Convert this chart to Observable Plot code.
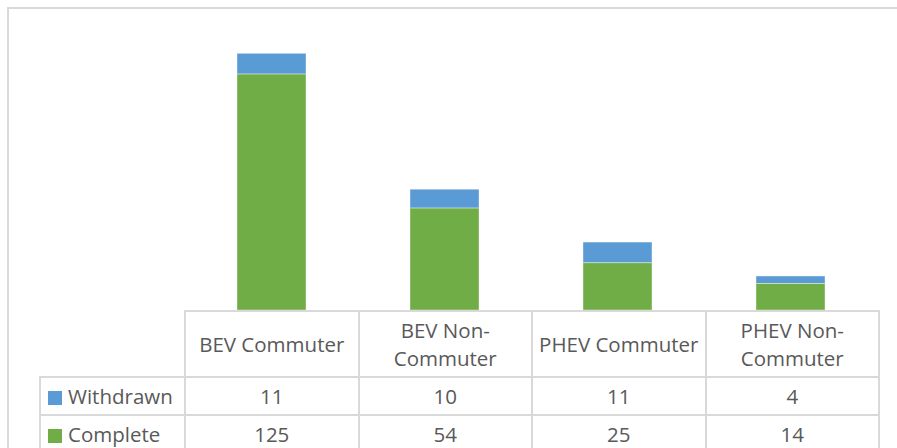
<!DOCTYPE html>
<html>
<head>
<meta charset="utf-8">
<script src="https://cdn.jsdelivr.net/npm/d3@7"></script>
<script src="https://cdn.jsdelivr.net/npm/@observablehq/plot@0.6"></script>
<style>
  html, body { margin: 0; padding: 0; background: #fff; }
  #wrap { position: relative; width: 897px; height: 448px; overflow: hidden; background: #fff; font-family: "Open Sans", sans-serif; }
  #frame { position: absolute; left: 7px; top: 7px; width: 1000px; height: 1000px; border: 2px solid #D9D9D9; box-sizing: border-box; }
  #chart { position: absolute; left: 0; top: 0; }
  #tbl { position: absolute; left: 39px; top: 310px; border-collapse: collapse; table-layout: fixed; color: #595959; font-size: 20.5px; }
  #tbl td { border: 2px solid #D9D9D9; text-align: center; padding: 0; line-height: 28px; white-space: nowrap; }
  #tbl td.corner { border-top: none; border-left: none; }
  #tbl td.lab { text-align: left; padding-left: 7px; }
  .sw { display: inline-block; width: 14px; height: 14px; margin-right: 6px; vertical-align: -1px; }
</style>
</head>
<body>
<div id="wrap">
  <div id="frame"></div>
  <div id="chart"></div>
  <table id="tbl"></table>
</div>
<script>
const categories = ["BEV Commuter", "BEV Non-Commuter", "PHEV Commuter", "PHEV Non-Commuter"];
const seriesNames = ["Withdrawn", "Complete"];
const withdrawn = [11, 10, 11, 4];
const complete = [125, 54, 25, 14];

const colors = {Withdrawn: "#5B9BD5", Complete: "#70AD47"};
const seriesValues = {Withdrawn: withdrawn, Complete: complete};

const data = [];
for (const s of seriesNames) {
  categories.forEach((c, i) => data.push({category: c, series: s, value: seriesValues[s][i]}));
}

const chart = Plot.plot({
  width: 897,
  height: 311,
  marginTop: 8,
  marginBottom: 1,
  marginLeft: 184,
  marginRight: 19,
  x: {domain: categories, paddingInner: 0.6, paddingOuter: 0.3, axis: null},
  y: {domain: [0, 160], axis: null},
  color: {domain: seriesNames, range: seriesNames.map(s => colors[s])},
  marks: [
    Plot.barY(data, Plot.stackY({
      x: "category",
      y: "value",
      fill: "series",
      order: ["Complete", "Withdrawn"],
      stroke: "#ffffff",
      strokeOpacity: 0.5,
      strokeWidth: 0.75,
      inset: 0
    }))
  ]
});
document.getElementById("chart").appendChild(chart);

// data table
const tbl = document.getElementById("tbl");
const colgroup = document.createElement("colgroup");
const widths = [145, 173.5, 173.5, 173.5, 173.5];
widths.forEach(w => { const c = document.createElement("col"); c.style.width = w + "px"; colgroup.appendChild(c); });
tbl.appendChild(colgroup);

const head = document.createElement("tr");
head.style.height = "66px";
const corner = document.createElement("td");
corner.className = "corner";
head.appendChild(corner);
for (const c of categories) {
  const td = document.createElement("td");
  const parts = c.split("-");
  parts.forEach((p, i) => {
    td.appendChild(document.createTextNode(p + (i < parts.length - 1 ? "-" : "")));
    if (i < parts.length - 1) td.appendChild(document.createElement("br"));
  });
  head.appendChild(td);
}
tbl.appendChild(head);

for (const s of seriesNames) {
  const tr = document.createElement("tr");
  tr.style.height = "38px";
  const lab = document.createElement("td");
  lab.className = "lab";
  const sw = document.createElement("span");
  sw.className = "sw";
  sw.style.background = colors[s];
  lab.appendChild(sw);
  lab.appendChild(document.createTextNode(s));
  tr.appendChild(lab);
  seriesValues[s].forEach(v => {
    const td = document.createElement("td");
    td.textContent = v;
    tr.appendChild(td);
  });
  tbl.appendChild(tr);
}
</script>
</body>
</html>
